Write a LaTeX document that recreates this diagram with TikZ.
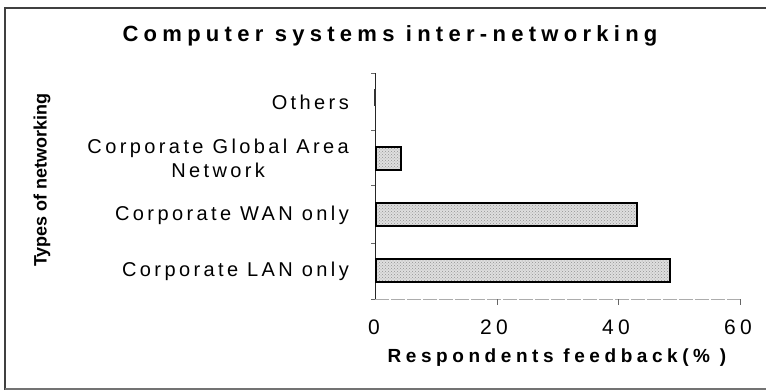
\documentclass[tikz,border=0pt]{standalone}
\usepackage{fontspec}
\setmainfont{Liberation Sans}
\newfontfamily\catfont[LetterSpace=17]{Liberation Sans}
\newfontfamily\numfont[LetterSpace=20]{Liberation Sans}
\newfontfamily\titfont[LetterSpace=24]{Liberation Sans}
\usetikzlibrary{patterns}
\tikzset{
  barbox/.style={draw=black, line width=1.8pt, preaction={fill=gray!25}, pattern=crosshatch dots, pattern color=gray!85},
  catlabel/.style={anchor=east, inner sep=0pt, align=center, font=\catfont\fontsize{20}{24}\selectfont},
  ticklabel/.style={inner sep=0pt, font=\numfont\fontsize{21}{22}\selectfont},
  framestyle/.style={line width=1.2pt, black!75},
  axisline/.style={line width=1pt, black!85},
  tickline/.style={line width=0.7pt, black!60}
}
\begin{document}
\begin{tikzpicture}[x=1pt,y=-1pt]
\useasboundingbox (0,0) rectangle (766,390);
% frame
\draw[framestyle] (766,8) -- (5,8) -- (5,390);
\draw[framestyle, black!55] (5,389) -- (766,389);
% title
\node[inner sep=0pt, font=\titfont\bfseries\fontsize{22}{24}\selectfont] (title) at (390,36) {Computer systems inter-networking};
% y-axis title
\node[inner sep=0pt, rotate=90, font=\bfseries\fontsize{18}{20}\selectfont] (ytitle) at (42,180) {Types of networking};
% axes
\coordinate (o) at (375,299);
\coordinate (ytop) at (375,73);
\coordinate (xend) at (741,299);
\draw[axisline] (o) -- (ytop);
\draw[gray!65, line width=0.8pt, dash pattern=on 14pt off 2pt] (o) -- (xend);
\foreach \y in {73,130,185,243,299} \draw[tickline] (371,\y) -- (375,\y);
\foreach \x in {497,618,740} \draw[tickline] (\x,299) -- (\x,305);
% tick labels
\node[ticklabel] (t0) at (374,327) {0};
\node[ticklabel] (t20) at (494,327) {20};
\node[ticklabel] (t40) at (616,327) {40};
\node[ticklabel] (t60) at (738,327) {60};
\node[inner sep=0pt, font=\titfont\bfseries\fontsize{19}{20}\selectfont] (xtitle) at (557,358) {Respondents feedback(\% )};
% category labels
\node[catlabel] (c1) at (349,102) {Others};
\node[catlabel] (c2) at (349,158) {Corporate Global Area\\Network};
\node[catlabel] (c3) at (349,215) {Corporate WAN only};
\node[catlabel] (c4) at (349,271) {Corporate LAN only};
% bars
\draw[line width=2.5pt, black!80] (375,89) -- (375,106);
\draw[barbox] (376,147) rectangle (401,170);
\draw[barbox] (376,203) rectangle (637,226);
\draw[barbox] (376,259) rectangle (670,282);
\end{tikzpicture}
\end{document}
